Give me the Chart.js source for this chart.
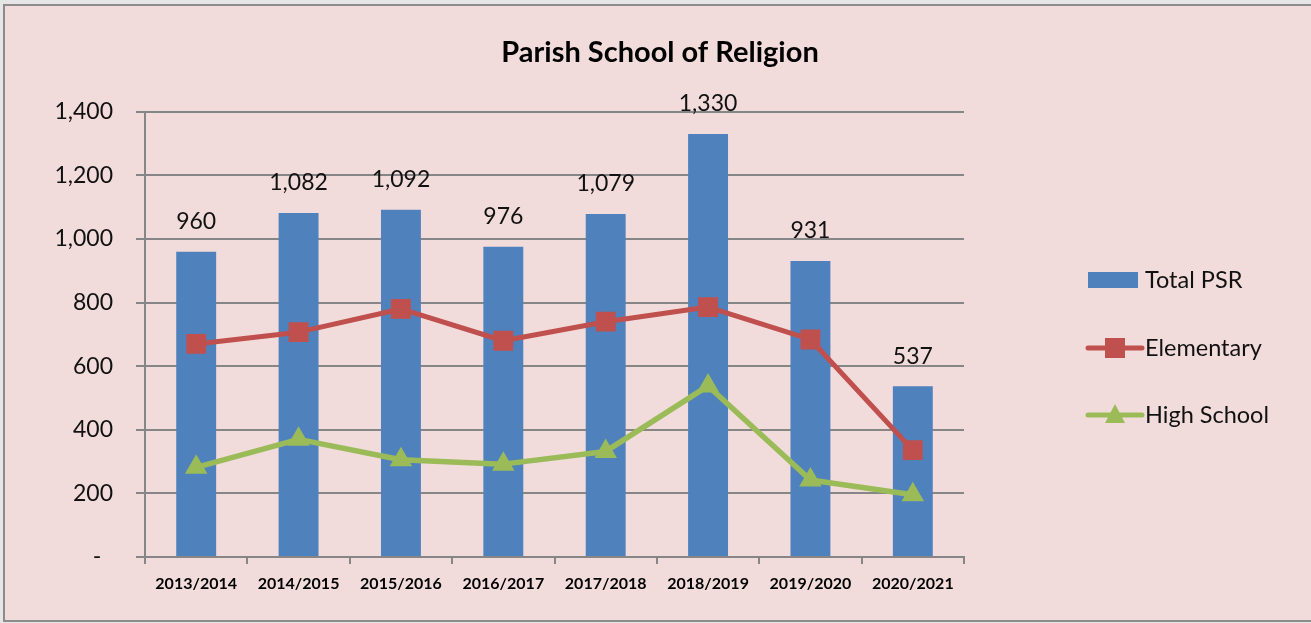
<!DOCTYPE html>
<html><head><meta charset="utf-8">
<script src="https://cdn.jsdelivr.net/npm/chart.js@4.4.0/dist/chart.umd.min.js"></script>
<style>
html,body{margin:0;padding:0;width:1311px;height:623px;overflow:hidden;background:#e6e6e6;}
#c{position:absolute;left:0;top:0;}
</style></head><body>
<canvas id="c" width="1311" height="623"></canvas>
<script>
const categories = ['2013/2014','2014/2015','2015/2016','2016/2017','2017/2018','2018/2019','2019/2020','2020/2021'];
const totalPSR = [960,1082,1092,976,1079,1330,931,537];
const elementary = [670,707,780,680,740,786,684,336];
const highSchool = [282,370,306,292,332,538,242,196];
const yTickValues = [0,200,400,600,800,1000,1200,1400];
const seriesNames = ['Total PSR','Elementary','High School'];
const chartTitle = 'Parish School of Religion';

const FONT = 'Lato, "Open Sans", sans-serif';
const GRID = '#868686';

const framePlugin = {
  id:'frame',
  beforeDraw(chart){
    const ctx = chart.ctx;
    ctx.save();
    ctx.fillStyle = '#e6e6e6';
    ctx.fillRect(0,0,chart.width,chart.height);
    ctx.fillStyle = '#f2dcdb';
    ctx.fillRect(4,5,chart.width-4,617);
    ctx.strokeStyle = '#8c8c8c';
    ctx.lineWidth = 2;
    ctx.beginPath();
    ctx.moveTo(chart.width+2,5);
    ctx.lineTo(4,5);
    ctx.lineTo(4,621);
    ctx.lineTo(chart.width+2,621);
    ctx.stroke();
    ctx.restore();
  }
};

const barLabelPlugin = {
  id:'barLabels',
  afterDatasetsDraw(chart){
    const ctx = chart.ctx;
    const meta = chart.getDatasetMeta(0);
    ctx.save();
    ctx.font = '23px ' + FONT;
    ctx.fillStyle = '#111';
    ctx.textAlign = 'center';
    ctx.textBaseline = 'middle';
    meta.data.forEach((bar,i)=>{
      ctx.fillText(totalPSR[i].toLocaleString('en-US'), bar.x, bar.y - 30);
    });
    ctx.restore();
  }
};

const legendPlugin = {
  id:'customLegend',
  afterDraw(chart){
    const ctx = chart.ctx;
    const ds = chart.data.datasets;
    const x0 = 1088, w = 50, tx = 1145;
    const ys = [280, 348, 415];
    ctx.save();
    ds.forEach((d,i)=>{
      const y = ys[i];
      if (d.type === 'bar') {
        ctx.fillStyle = d.backgroundColor;
        ctx.fillRect(x0, y-8, w, 16);
      } else {
        ctx.strokeStyle = d.borderColor;
        ctx.lineWidth = 5;
        ctx.lineCap = 'round';
        ctx.beginPath();
        ctx.moveTo(x0, y);
        ctx.lineTo(x0+w+4, y);
        ctx.stroke();
        ctx.fillStyle = d.pointBackgroundColor;
        const cx = x0 + 27;
        ctx.beginPath();
        if (d.pointStyle === 'rect') {
          ctx.rect(cx-10, y-10, 20, 20);
        } else {
          ctx.moveTo(cx, y-11);
          ctx.lineTo(cx+10, y+8);
          ctx.lineTo(cx-10, y+8);
          ctx.closePath();
        }
        ctx.fill();
      }
      ctx.fillStyle = '#111';
      ctx.font = '23.5px ' + FONT;
      ctx.textAlign = 'left';
      ctx.textBaseline = 'middle';
      ctx.fillText(d.label, tx, y);
    });
    ctx.restore();
  }
};

new Chart(document.getElementById('c'), {
  data:{
    labels: categories,
    datasets:[
      {type:'bar', label: seriesNames[0], data: totalPSR, backgroundColor:'#4f81bd',
       barPercentage:0.39, categoryPercentage:1, order:3},
      {type:'line', label: seriesNames[1], data: elementary, borderColor:'#c0504d', borderWidth:5,
       pointStyle:'rect', pointRadius:14, pointHoverRadius:14, pointBackgroundColor:'#c0504d', pointBorderWidth:0,
       tension:0, order:2, borderJoinStyle:'round'},
      {type:'line', label: seriesNames[2], data: highSchool, borderColor:'#9bbb59', borderWidth:5.5,
       pointStyle:'triangle', pointRadius:13, pointHoverRadius:13, pointBackgroundColor:'#9bbb59', pointBorderWidth:0,
       tension:0, order:1, borderJoinStyle:'round'}
    ]
  },
  options:{
    responsive:false,
    animation:false,
    events:[],
    layout:{padding:{left:9,right:0,top:0,bottom:0}},
    plugins:{
      legend:{display:false},
      tooltip:{enabled:false},
      title:{display:true, text: chartTitle, color:'#000',
        font:{family:FONT, size:29, weight:'bold', lineHeight:1.2},
        padding:{top:35,bottom:42}}
    },
    scales:{
      x:{
        grid:{display:true, drawOnChartArea:false, drawTicks:true, tickLength:7, color:GRID, lineWidth:2, offset:true},
        border:{display:true, color:GRID, width:2},
        ticks:{color:'#000', font:{family:FONT, size:16, weight:'bold'}, padding:10, maxRotation:0, autoSkip:false},
        afterFit(s){ s.height = 66; }
      },
      y:{
        min:0, max:1400,
        afterBuildTicks(s){ s.ticks = yTickValues.map(v=>({value:v})); },
        grid:{color:GRID, lineWidth:2, tickLength:9},
        border:{display:true, color:GRID, width:2},
        ticks:{color:'#111', font:{family:FONT, size:23}, padding:23,
          callback:(v)=> v===0 ? '-  ' : v.toLocaleString('en-US')},
        afterFit(s){ s.width = 136; }
      },
      legendSpace:{
        type:'linear', position:'right', display:true,
        grid:{display:false}, border:{display:false}, ticks:{display:false},
        afterFit(s){ s.width = 347; }
      }
    }
  },
  plugins:[framePlugin, barLabelPlugin, legendPlugin]
});
</script>
</body></html>
